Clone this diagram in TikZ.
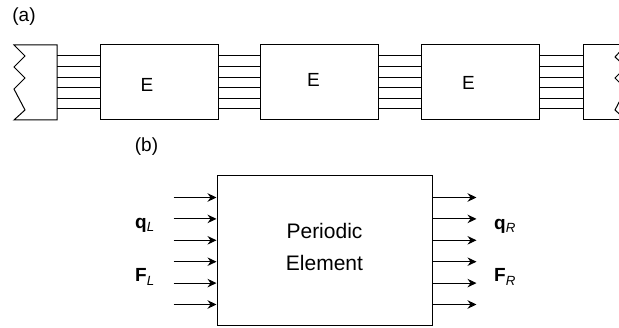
\documentclass[tikz,border=0pt]{standalone}
\usepackage{fontspec}
\setmainfont{Liberation Sans}
\usepackage{tikz}
\usetikzlibrary{arrows.meta,positioning,calc}

\begin{document}
\begin{tikzpicture}[x=1pt,y=-1pt,font=\fontsize{19}{22}\selectfont,line width=1pt,
		elem/.style={draw,rectangle,minimum width=118pt,minimum height=75pt,inner sep=0pt},
		bigelem/.style={draw,rectangle,minimum width=215pt,minimum height=150pt,inner sep=0pt},
		flow/.style={-{Stealth[length=9pt,width=8.5pt,inset=3pt]}}]
			\useasboundingbox (0,0) rectangle (619,328);
			% (a) chain of elements
			\node (tagA) at (24,17) {(a)};
			\draw (57,45) -- (14,45) -- (25,56) -- (14,67) -- (25,78) -- (14,89) -- (25,110) -- (14,120) -- (57,120) -- cycle;
			\coordinate (lw) at (57,82.5);
			\node[elem] (e1) at (159,82.5) {};
			\node[elem] (e2) at (319.5,82.5) {};
			\node[elem] (e3) at (480.5,82.5) {};
			\node (e1lab) at ($(e1)+(-12,2.5)$) {E};
			\node (e2lab) at ($(e2)+(-6,-2.5)$) {E};
			\node (e3lab) at ($(e3)+(-12,0.5)$) {E};
			\begin{scope}
				\clip (0,0) rectangle (619,328);
				\draw (630,45) -- (583,45) -- (583,120) -- (630,120);
				\draw (626,45) -- (615,57) -- (626,67) -- (615,78) -- (626,89) -- (615,110) -- (626,120);
			\end{scope}
			\coordinate (rw) at (583,82.5);
			\foreach \dy in {-26.5,-15.9,-5.3,5.3,15.9,26.5} {
				\draw ($(lw)+(0,\dy)$) -- ($(e1.west)+(0,\dy)$);
				\draw ($(e1.east)+(0,\dy)$) -- ($(e2.west)+(0,\dy)$);
				\draw ($(e2.east)+(0,\dy)$) -- ($(e3.west)+(0,\dy)$);
				\draw ($(e3.east)+(0,\dy)$) -- ($(rw)+(0,\dy)$);
			}
			% (b) one periodic element
			\node (tagB) at (146.5,147) {(b)};
			\node[bigelem] (pe) at (324.5,251) {};
			\node[align=center,font=\fontsize{21}{32}\selectfont] (pelab) at ($(pe)+(0,-4)$) {Periodic\\Element};
			\foreach \dy in {-53.5,-32.1,-10.7,10.7,32.1,53.5} {
				\draw[flow] ($(pe.west)+(-43,\dy)$) -- ($(pe.west)+(0,\dy)$);
				\draw[flow] ($(pe.east)+(0,\dy)$) -- ($(pe.east)+(44,\dy)$);
			}
			\node (qL) at (145,225) {\textbf{q}\textsubscript{\textit{L}}};
			\node (FL) at (145,277) {\textbf{F}\textsubscript{\textit{L}}};
			\node (qR) at (505,226) {\textbf{q}\textsubscript{\textit{R}}};
			\node (FR) at (505,277) {\textbf{F}\textsubscript{\textit{R}}};
		\end{tikzpicture}
\end{document}
